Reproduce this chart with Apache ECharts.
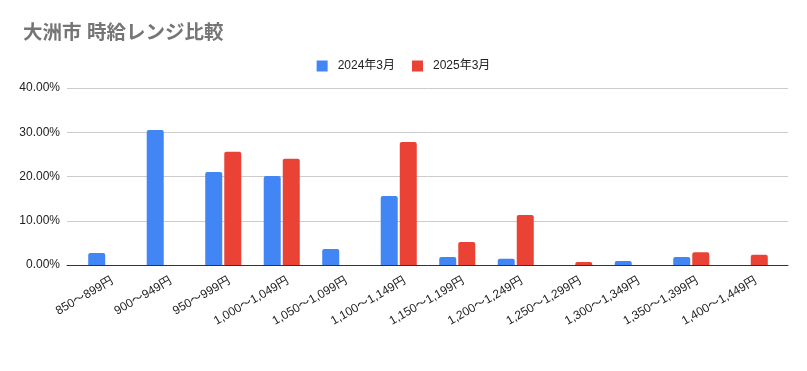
<!DOCTYPE html>
<html><head><meta charset="utf-8">
<script src="https://cdn.jsdelivr.net/npm/echarts@6/dist/echarts.min.js"></script>
<style>html,body{margin:0;padding:0;background:#fff}#c{width:807px;height:371px}</style>
</head><body><div id="c"></div>
<script>
const categories = ["850〜899円","900〜949円","950〜999円","1,000〜1,049円","1,050〜1,099円","1,100〜1,149円","1,150〜1,199円","1,200〜1,249円","1,250〜1,299円","1,300〜1,349円","1,350〜1,399円","1,400〜1,449円"];
const series2024 = [2.7, 30.5, 21.0, 20.1, 3.6, 15.6, 1.8, 1.4, null, 0.9, 1.8, null];
const series2025 = [null, null, 25.6, 24.0, null, 27.8, 5.2, 11.3, 0.7, null, 2.9, 2.3];
const seriesNames = ["2024年3月","2025年3月"];
const yTicks = [0, 10, 20, 30, 40];

const FONT = "'Liberation Sans', Arial, 'Noto Sans CJK JP', sans-serif";
const chart = echarts.init(document.getElementById('c'));
chart.setOption({
  animation: false,
  textStyle: {fontFamily: FONT},
  title: {text: '大洲市 時給レンジ比較', left: 18, top: 19,
    textStyle: {fontSize: 19.5, fontWeight: 'bold', color: '#757575', fontFamily: FONT}},
  legend: {top: 55, left: 'center', itemWidth: 11, itemHeight: 11, itemGap: 17,
    icon: 'rect',
    textStyle: {fontSize: 12, color: '#222', padding: [0,0,0,5], fontFamily: FONT},
    data: seriesNames},
  grid: [
    {left: 67, right: 19, top: 88, bottom: 106},
    {left: 77, right: 28, top: 88, bottom: 106},
    {left: 83, right: 22, top: 88, bottom: 106}
  ],
  xAxis: [
    {gridIndex: 0, type: 'value', min: 0, max: 1, axisLabel: {show: false}, axisTick: {show: false},
     splitLine: {show: false}, axisLine: {show: true, lineStyle: {color: '#333', width: 1}}},
    {gridIndex: 1, type: 'category', data: categories, axisLine: {show: false}, axisTick: {show: false},
     axisLabel: {show: false}},
    {gridIndex: 2, type: 'category', data: categories, axisLine: {show: false}, axisTick: {show: false},
     axisLabel: {rotate: 30, fontSize: 12, color: '#222', margin: 15, interval: 0, fontFamily: FONT}}
  ],
  yAxis: [
    {gridIndex: 0, type: 'value', min: yTicks[0], max: yTicks[yTicks.length-1], interval: 10,
     axisLine: {show: false}, axisTick: {show: false},
     axisLabel: {fontSize: 12, color: '#222', margin: 7, formatter: v => v.toFixed(2) + '%', fontFamily: FONT},
     splitLine: {lineStyle: {color: '#cccccc'}}},
    {gridIndex: 1, type: 'value', min: 0, max: 40, show: false, splitLine: {show: false}},
    {gridIndex: 2, type: 'value', min: 0, max: 40, show: false, splitLine: {show: false}}
  ],
  series: [
    {name: seriesNames[0], type: 'bar', xAxisIndex: 1, yAxisIndex: 1, data: series2024,
     barWidth: 17, barGap: '12%', itemStyle: {color: '#4285F4', borderRadius: [2,2,0,0]}},
    {name: seriesNames[1], type: 'bar', xAxisIndex: 1, yAxisIndex: 1, data: series2025,
     barWidth: 17, barGap: '12%', itemStyle: {color: '#EA4335', borderRadius: [2,2,0,0]}}
  ]
});
</script></body></html>
